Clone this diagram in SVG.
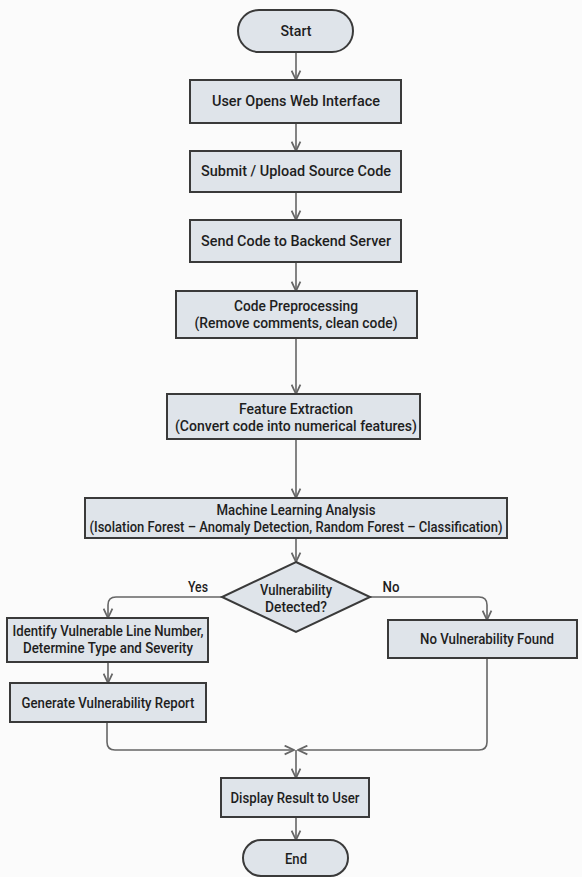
<svg xmlns="http://www.w3.org/2000/svg" width="582" height="877" viewBox="0 0 582 877">
<defs>
<marker id="arr" viewBox="0 0 10 10" refX="9.5" refY="5" markerWidth="11" markerHeight="11" markerUnits="userSpaceOnUse" orient="auto">
<path d="M1,1 L9.5,5 L1,9" fill="none" stroke="#666" stroke-width="1.6"/>
</marker>
<style>
.box{fill:#dfe4ea;stroke:#3a3a3a;stroke-width:2}
.t{font-family:Roboto,"Liberation Sans",sans-serif;font-size:14px;font-weight:500;fill:#1e1e1e;text-anchor:middle}
.lbl{font-family:Roboto,"Liberation Sans",sans-serif;font-size:14px;font-weight:500;fill:#1e1e1e;text-anchor:middle}
.c{fill:none;stroke:#666;stroke-width:1.6;marker-end:url(#arr)}
</style>
</defs>
<rect width="582" height="877" fill="#fbfbfb"/>
<g id="connectors">
<path class="c" d="M296,52 V80"/>
<path class="c" d="M296,123 V151"/>
<path class="c" d="M296,192 V220"/>
<path class="c" d="M296,262 V291"/>
<path class="c" d="M296,338 V394"/>
<path class="c" d="M296,439 V498"/>
<path class="c" d="M296,538 V562"/>
<path class="c" d="M222,597 H116 Q108,597 108,605 V618"/>
<path class="c" d="M108,662 V683"/>
<path class="c" d="M370,597 H479 Q487,597 487,605 V620"/>
<path class="c" d="M107,722 V742 Q107,750 115,750 H294"/>
<path class="c" d="M487,658 V742 Q487,750 479,750 H298"/>
<path class="c" d="M296,750 V778"/>
<path class="c" d="M296,817 V840"/>
<text class="lbl" x="198" y="592" textLength="20" lengthAdjust="spacingAndGlyphs">Yes</text>
<text class="lbl" x="391" y="592" textLength="17" lengthAdjust="spacingAndGlyphs">No</text>
</g>
<g id="start">
<rect class="box" x="238" y="10" width="115" height="42" rx="21"/>
<text class="t" x="296" y="36" textLength="31" lengthAdjust="spacingAndGlyphs">Start</text>
</g>
<g id="user-opens">
<rect class="box" x="190" y="80" width="211" height="43"/>
<text class="t" x="296" y="106" textLength="168" lengthAdjust="spacingAndGlyphs">User Opens Web Interface</text>
</g>
<g id="submit">
<rect class="box" x="190" y="151" width="211" height="41"/>
<text class="t" x="296" y="176" textLength="190" lengthAdjust="spacingAndGlyphs">Submit / Upload Source Code</text>
</g>
<g id="send">
<rect class="box" x="190" y="220" width="211" height="42"/>
<text class="t" x="296" y="246" textLength="190" lengthAdjust="spacingAndGlyphs">Send Code to Backend Server</text>
</g>
<g id="preprocessing">
<rect class="box" x="176" y="291" width="241" height="47"/>
<text class="t" x="296" y="311" textLength="124" lengthAdjust="spacingAndGlyphs">Code Preprocessing</text>
<text class="t" x="296" y="328" textLength="203" lengthAdjust="spacingAndGlyphs">(Remove comments, clean code)</text>
</g>
<g id="feature-extraction">
<rect class="box" x="167" y="394" width="253" height="45"/>
<text class="t" x="296" y="414" textLength="114" lengthAdjust="spacingAndGlyphs">Feature Extraction</text>
<text class="t" x="296" y="431" textLength="242" lengthAdjust="spacingAndGlyphs">(Convert code into numerical features)</text>
</g>
<g id="ml-analysis">
<rect class="box" x="85" y="498" width="422" height="40"/>
<text class="t" x="296" y="515" textLength="159" lengthAdjust="spacingAndGlyphs">Machine Learning Analysis</text>
<text class="t" x="296" y="532" textLength="413" lengthAdjust="spacingAndGlyphs">(Isolation Forest – Anomaly Detection, Random Forest – Classification)</text>
</g>
<g id="decision">
<polygon class="box" points="296,562 370,597 296,632 222,597"/>
<text class="t" x="296" y="595" textLength="72" lengthAdjust="spacingAndGlyphs">Vulnerability</text>
<text class="t" x="296" y="612" textLength="62" lengthAdjust="spacingAndGlyphs">Detected?</text>
</g>
<g id="identify">
<rect class="box" x="7" y="618" width="201" height="44"/>
<text class="t" x="108" y="636" textLength="191" lengthAdjust="spacingAndGlyphs">Identify Vulnerable Line Number,</text>
<text class="t" x="108" y="653" textLength="170" lengthAdjust="spacingAndGlyphs">Determine Type and Severity</text>
</g>
<g id="report">
<rect class="box" x="10" y="683" width="196" height="39"/>
<text class="t" x="108" y="708" textLength="173" lengthAdjust="spacingAndGlyphs">Generate Vulnerability Report</text>
</g>
<g id="no-vuln">
<rect class="box" x="388" y="620" width="189" height="38"/>
<text class="t" x="487" y="644" textLength="134" lengthAdjust="spacingAndGlyphs">No Vulnerability Found</text>
</g>
<g id="display">
<rect class="box" x="221" y="778" width="148" height="39"/>
<text class="t" x="295" y="803" textLength="129" lengthAdjust="spacingAndGlyphs">Display Result to User</text>
</g>
<g id="end">
<rect class="box" x="243" y="840" width="105" height="36" rx="18"/>
<text class="t" x="296" y="864" textLength="22" lengthAdjust="spacingAndGlyphs">End</text>
</g>
</svg>
